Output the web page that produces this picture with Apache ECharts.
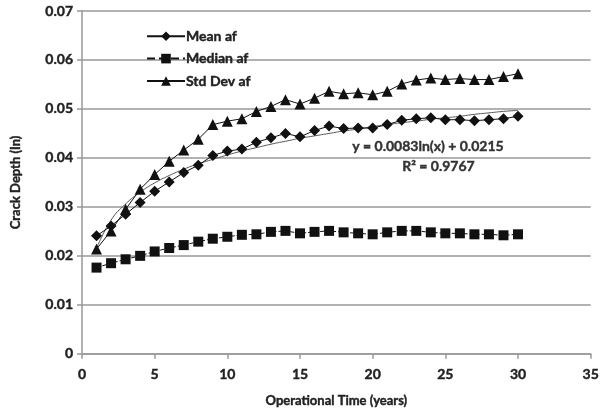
<!DOCTYPE html>
<html>
<head>
<meta charset="utf-8">
<script src="https://cdn.jsdelivr.net/npm/echarts@6/dist/echarts.min.js"></script>
<style>
  html, body { margin: 0; padding: 0; background: #fff; }
  #chart-box { width: 602px; height: 413px; }
</style>
</head>
<body>
<div id="chart-box"></div>
<script>
// years 1..30
const years = [1, 2, 3, 4, 5, 6, 7, 8, 9, 10, 11, 12, 13, 14, 15, 16, 17, 18, 19, 20, 21, 22, 23, 24, 25, 26, 27, 28, 29, 30];

const meanAf = [0.0241, 0.0261, 0.0285, 0.0309, 0.0332, 0.0351, 0.0370, 0.0385, 0.0405, 0.0414,
  0.0418, 0.0432, 0.0441, 0.0450, 0.0443, 0.0456, 0.0465, 0.0460, 0.0461, 0.0461,
  0.0468, 0.0477, 0.0480, 0.0482, 0.0478, 0.0478, 0.0476, 0.0478, 0.0480, 0.0485];

const medianAf = [0.0176, 0.0185, 0.0193, 0.0200, 0.0209, 0.0216, 0.0222, 0.0229, 0.0235, 0.0239,
  0.0243, 0.0244, 0.0249, 0.0251, 0.0246, 0.0249, 0.0251, 0.0248, 0.0246, 0.0244,
  0.0248, 0.0251, 0.0251, 0.0248, 0.0246, 0.0246, 0.0244, 0.0244, 0.0242, 0.0244];

const stdDevAf = [0.0214, 0.0251, 0.0295, 0.0336, 0.0366, 0.0393, 0.0416, 0.0438, 0.0468, 0.0475,
  0.0480, 0.0495, 0.0505, 0.0519, 0.0510, 0.0522, 0.0536, 0.0531, 0.0533, 0.0529,
  0.0536, 0.0551, 0.0559, 0.0563, 0.0560, 0.0562, 0.0560, 0.0560, 0.0566, 0.0572];

// log trendline for mean
const trendAf = [0.0215, 0.0273, 0.0306, 0.0330, 0.0349, 0.0364, 0.0377, 0.0388, 0.0397, 0.0406,
  0.0414, 0.0421, 0.0428, 0.0434, 0.0440, 0.0445, 0.0450, 0.0455, 0.0459, 0.0464,
  0.0468, 0.0472, 0.0475, 0.0479, 0.0482, 0.0485, 0.0489, 0.0492, 0.0495, 0.0497];

const seriesNames = ["Mean af", "Median af", "Std Dev af"];
const trendText = ["y = 0.0083ln(x) + 0.0215", "R\u00b2 = 0.9767"];

const pairs = (ys) => years.map((x, i) => [x, ys[i]]);

const chart = echarts.init(document.getElementById("chart-box"));
const fontFamily = "Lato, 'Open Sans', sans-serif";
// heavier text, the original looks like a thick Calibri bold
const boldText = {
  fontFamily: fontFamily,
  fontWeight: "bold",
  color: "#222",
  textBorderColor: "#222",
  textBorderWidth: 0.4,
};

const option = {
  animation: false,
  backgroundColor: "#fff",
  grid: {
    left: 82,
    right: 8,
    top: 11,
    bottom: 58,
  },
  legend: {
    orient: "vertical",
    left: 141,
    top: 24,
    itemGap: 8,
    itemWidth: 38,
    itemHeight: 12,
    data: seriesNames,
    textStyle: Object.assign({}, boldText, { fontSize: 14, padding: [0, 0, 0, -4] }),
  },
  xAxis: {
    type: "value",
    min: 0,
    max: 35,
    interval: 5,
    name: "Operational Time (years)",
    nameLocation: "middle",
    nameGap: 41,
    nameTextStyle: Object.assign({}, boldText, { fontSize: 13 }),
    axisLine: { show: true, lineStyle: { color: "#999", width: 1.5 } },
    axisTick: { show: true, length: 5, lineStyle: { color: "#999", width: 1.5 } },
    axisLabel: Object.assign({}, boldText, { fontSize: 14, margin: 14 }),
    splitLine: { show: false },
  },
  yAxis: {
    type: "value",
    min: 0,
    max: 0.07,
    interval: 0.01,
    name: "Crack Depth (In)",
    nameLocation: "middle",
    nameGap: 60,
    nameTextStyle: Object.assign({}, boldText, { fontSize: 13 }),
    axisLine: { show: true, lineStyle: { color: "#999", width: 1.5 } },
    axisTick: { show: true, length: 5, lineStyle: { color: "#999", width: 1.5 } },
    axisLabel: Object.assign({}, boldText, {
      fontSize: 14,
      margin: 9,
      formatter: (v) => (v === 0 ? "0" : v.toFixed(2)),
    }),
    splitLine: { show: true, lineStyle: { color: "#999", width: 1.5 } },
  },
  graphic: [
    {
      type: "text",
      left: 352,
      top: 139,
      style: {
        text: trendText[0],
        font: "bold 14px " + fontFamily,
        fill: "#333",
        stroke: "#333",
        lineWidth: 0.4,
      },
    },
    {
      type: "text",
      left: 402,
      top: 159,
      style: {
        text: trendText[1],
        font: "bold 14px " + fontFamily,
        fill: "#333",
        stroke: "#333",
        lineWidth: 0.4,
      },
    },
  ],
  series: [
    {
      name: "Log trend",
      type: "line",
      data: pairs(trendAf),
      smooth: true,
      showSymbol: false,
      lineStyle: { color: "#555", width: 1 },
      z: 1,
    },
    {
      name: seriesNames[0],
      type: "line",
      data: pairs(meanAf),
      symbol: "diamond",
      symbolSize: 11,
      itemStyle: { color: "#111" },
      lineStyle: { color: "#111", width: 1 },
      z: 3,
    },
    {
      name: seriesNames[1],
      type: "line",
      data: pairs(medianAf),
      symbol: "rect",
      symbolSize: 10,
      itemStyle: { color: "#111" },
      lineStyle: { color: "#111", width: 1, type: "dashed" },
      z: 3,
    },
    {
      name: seriesNames[2],
      type: "line",
      data: pairs(stdDevAf),
      symbol: "triangle",
      symbolSize: 11,
      itemStyle: { color: "#111" },
      lineStyle: { color: "#111", width: 1 },
      z: 3,
    },
  ],
};

chart.setOption(option);
</script>
</body>
</html>
